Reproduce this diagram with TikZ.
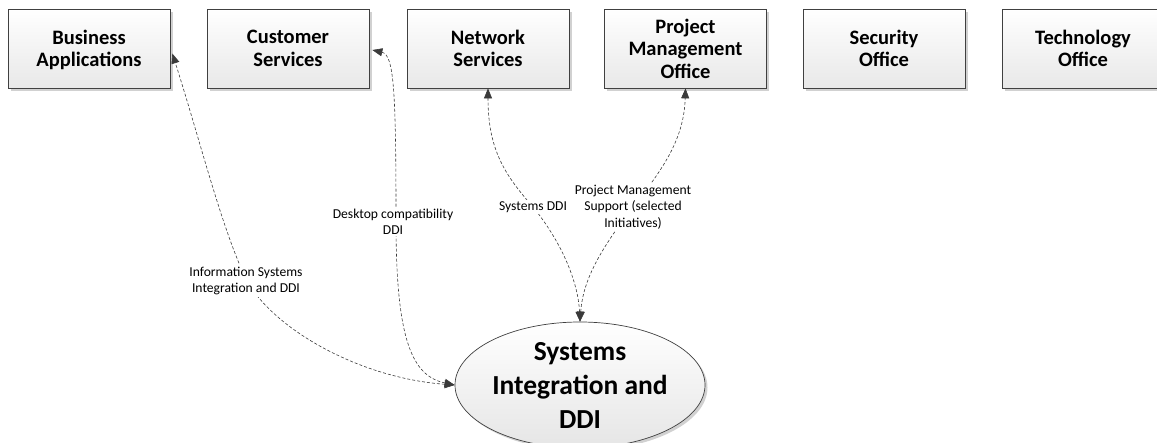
\documentclass[tikz,border=0pt]{standalone}
\usepackage{fontspec}
\setmainfont{Carlito}
\usetikzlibrary{arrows.meta,shadows,shapes.geometric}
\definecolor{edge}{HTML}{404040}
\definecolor{lnk}{HTML}{3A3A3A}
\tikzset{
  unit/.style={
    draw=edge, line width=0.7pt, minimum width=162pt, minimum height=79pt,
    top color=white, bottom color=gray!18,
    drop shadow={shadow xshift=2.5pt, shadow yshift=-2.5pt, fill=gray!60, opacity=0.6},
    align=center, font=\bfseries\fontsize{20.5}{22.5}\selectfont, inner sep=2pt, text depth=0pt},
  core/.style={
    ellipse, draw=edge, line width=0.7pt, minimum width=250pt, minimum height=126pt,
    top color=white, bottom color=gray!20,
    drop shadow={shadow xshift=2.5pt, shadow yshift=-2.5pt, fill=gray!60, opacity=0.6},
    align=center, font=\bfseries\fontsize{27.5}{34}\selectfont, inner sep=0pt},
  link/.style={draw=lnk, line width=0.6pt, dash pattern=on 3pt off 2pt},
  tips/.style={{Triangle[length=10pt,width=8pt]}-{Triangle[length=10pt,width=8pt]}},
  lab/.style={fill=white, align=center, inner sep=1.5pt, font=\fontsize{13.6}{16.5}\selectfont}
}
\begin{document}
\begin{tikzpicture}[x=1pt,y=-1pt]
\path[use as bounding box, clip] (0,0) rectangle (1157,442);

\node[unit] (ba) at (89,48.5) {Business\\Applications};
\node[unit] (cs) at (288,48.5) {Customer\\Services};
\node[unit] (ns) at (488,48.5) {Network\\Services};
\node[unit] (pm) at (685.5,48.5) {Project\\Management\\Office};
\node[unit] (so) at (884,48.5) {Security\\Office};
\node[unit] (to) at (1083,48.5) {Technology\\Office};

\node[core] (sys) at (580,385) {Systems\\Integration and\\DDI};

\coordinate (baT) at ([xshift=2pt,yshift=-5pt]ba.east);
\coordinate (csT) at ([xshift=3pt,yshift=-1.5pt]cs.east);

% Business Applications <-> Systems Integration
\draw[link,tips] (sys.west) .. controls (360,378) and (275,330) .. (247,281)
   .. controls (222,230) and (200,140) .. (baT);
% Customer Services <-> Systems Integration
\draw[link,tips] (sys.west) .. controls (412,376) and (396,340) .. (396,222)
   .. controls (396,90) and (394,55) .. (csT);
% Network Services <-> Systems Integration
\draw[link,tips] (sys.north) .. controls (578,280) and (560,240) .. (533,207)
   .. controls (505,175) and (488,150) .. (ns.south);
% PMO <-> Systems Integration
\draw[link,tips] (sys.north) .. controls (583,280) and (600,250) .. (633,207)
   .. controls (662,170) and (684,140) .. (pm.south);

\node[lab] (l1) at (246,281) {Information Systems\\Integration and DDI};
\node[lab] (l2) at (393,222) {Desktop compatibility\\DDI};
\node[lab] (l3) at (533,207) {Systems DDI};
\node[lab] (l4) at (633,207) {Project Management\\Support (selected\\Initiatives)};
\end{tikzpicture}
\end{document}
